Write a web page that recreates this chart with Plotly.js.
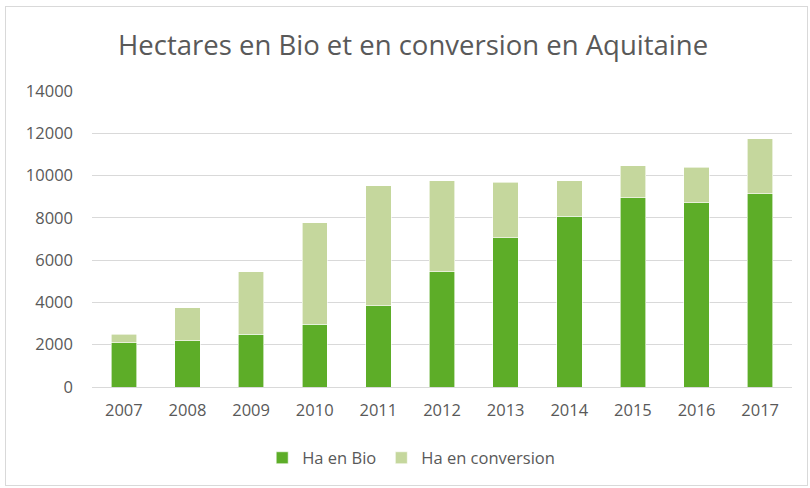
<!DOCTYPE html>
<html><head><meta charset="utf-8">
<script src="https://cdn.plot.ly/plotly-3.0.1.min.js"></script>
<style>
html,body{margin:0;padding:0;background:#fff;}
#wrap{position:relative;width:810px;height:488px;}
#chart{width:810px;height:488px;}
#border{position:absolute;left:5px;top:6px;width:803px;height:480px;border:1px solid #d9d9d9;pointer-events:none;box-sizing:border-box;}
</style></head>
<body>
<div id="wrap"><div id="chart"></div><div id="border"></div></div>
<script>
const years = ['2007','2008','2009','2010','2011','2012','2013','2014','2015','2016','2017'];
const haBio = [2100, 2180, 2500, 2970, 3850, 5450, 7050, 8070, 8960, 8720, 9130];
const haConversion = [400, 1580, 2940, 4790, 5660, 4300, 2640, 1680, 1510, 1670, 2620];
const yTicks = [0, 2000, 4000, 6000, 8000, 10000, 12000, 14000];

const tickFont = {family: '"Open Sans", "Noto Sans", sans-serif', size: 16.5, color: '#595959'};

Plotly.newPlot('chart', [
  {type: 'bar', name: 'Ha en Bio', x: years, y: haBio,
   marker: {color: '#5DAD28', line: {color: '#ffffff', width: 0.6}}},
  {type: 'bar', name: 'Ha en conversion', x: years, y: haConversion,
   marker: {color: '#C5D79D', line: {color: '#ffffff', width: 0.6}}}
], {
  width: 810, height: 488,
  barmode: 'stack', bargap: 0.6,
  paper_bgcolor: '#ffffff', plot_bgcolor: '#ffffff',
  margin: {l: 92, r: 18, t: 91, b: 101},
  title: {text: 'Hectares en Bio et en conversion en Aquitaine',
    font: {family: '"Open Sans", sans-serif', size: 27.5, color: '#595959'},
    x: 0.51, xanchor: 'center', y: 0.908, yanchor: 'middle'},
  xaxis: {type: 'category', tickfont: tickFont, showgrid: false, showline: true,
    linecolor: '#d9d9d9', linewidth: 1, ticks: '', ticklen: 0, ticklabelstandoff: 8},
  yaxis: {range: [0, 14000], tickvals: yTicks, ticktext: yTicks.map(String),
    tickfont: tickFont, gridcolor: '#d9d9d9', gridwidth: 1, zeroline: false,
    showline: false, ticks: '', ticklabelstandoff: 18},
  legend: {orientation: 'h', x: 0.456, xanchor: 'center', y: -0.24, yanchor: 'middle',
    font: tickFont, itemwidth: 30, traceorder: 'normal'},
  showlegend: true
}, {displayModeBar: false, staticPlot: true});
</script>
</body></html>
